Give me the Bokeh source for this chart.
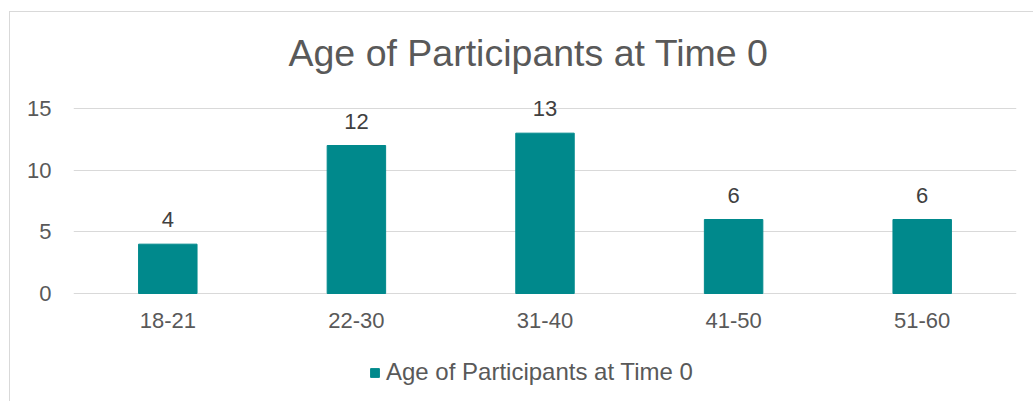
from bokeh.plotting import figure
from bokeh.models import ColumnDataSource, FactorRange, Range1d, LabelSet, Legend, LegendItem, FixedTicker
from bokeh.core.properties import value
from bokeh.embed import file_html
from bokeh.resources import INLINE

categories = ["18-21", "22-30", "31-40", "41-50", "51-60"]
counts = [4, 12, 13, 6, 6]
y_ticks = [0, 5, 10, 15]
series_name = "Age of Participants at Time 0"
title_text = "Age of Participants at Time 0"

FONT = "Liberation Sans"
TXT = "#595959"
BAR = "#00898C"
GRID = "#D9D9D9"

W, H = 1024, 390
TOP, LEFT, RIGHT = 59, 63, 18
PX_PER_UNIT = 185 / 15          # 15 units of value span 185 px
Y_TOP = 18                      # head room above 15 for the data labels
Y_BOTTOM = -(H - TOP - Y_TOP * PX_PER_UNIT) / PX_PER_UNIT  # room below 0 for labels/legend

source = ColumnDataSource(dict(cat=categories, count=counts, label=[str(c) for c in counts]))

p = figure(
    x_range=FactorRange(*categories, range_padding=0),
    y_range=Range1d(Y_BOTTOM, Y_TOP),
    width=W, height=H,
    output_backend="svg", toolbar_location=None,
    min_border_left=LEFT, min_border_right=RIGHT,
    min_border_top=TOP, min_border_bottom=0,
)
p.styles = {"margin-left": "9px", "margin-top": "11px",
            "border-left": "1px solid #D9D9D9", "border-top": "1px solid #D9D9D9"}

r = p.vbar(x="cat", top="count", bottom=0, width=0.31, source=source,
           fill_color=BAR, line_color=BAR)

p.title.text = title_text
p.title.align = "left"
p.title.offset = 215
p.title.standoff = -4
p.title.text_font = FONT
p.title.text_font_size = "37.5px"
p.title.text_font_style = "normal"
p.title.text_color = TXT

p.outline_line_color = None
p.xgrid.visible = False
p.ygrid.ticker = FixedTicker(ticks=y_ticks)
p.ygrid.grid_line_color = GRID
p.ygrid.grid_line_width = 1

p.yaxis.ticker = FixedTicker(ticks=y_ticks)
p.xaxis.fixed_location = 0
for ax in (p.xaxis[0], p.yaxis[0]):
    ax.axis_line_color = None
    ax.major_tick_line_color = None
    ax.minor_tick_line_color = None
    ax.major_label_text_font = FONT
    ax.major_label_text_font_size = "22px"
    ax.major_label_text_color = TXT
p.yaxis.major_label_standoff = 16
p.xaxis.major_label_standoff = 13

labels = LabelSet(x="cat", y="count", text="label", source=source,
                  text_align="center", text_baseline="alphabetic", y_offset=17,
                  text_font=value(FONT), text_font_size=value("22px"), text_color="#404040")
p.add_layout(labels)

legend = Legend(items=[LegendItem(label=series_name, renderers=[r])],
                location=(296, 16), orientation="horizontal",
                glyph_width=11, glyph_height=11, label_standoff=6,
                label_text_font=FONT, label_text_font_size="24px", label_text_color=TXT,
                border_line_color=None, background_fill_alpha=0,
                padding=0, margin=0)
p.add_layout(legend, "center")

open("out.html", "w").write(file_html(p, INLINE))
